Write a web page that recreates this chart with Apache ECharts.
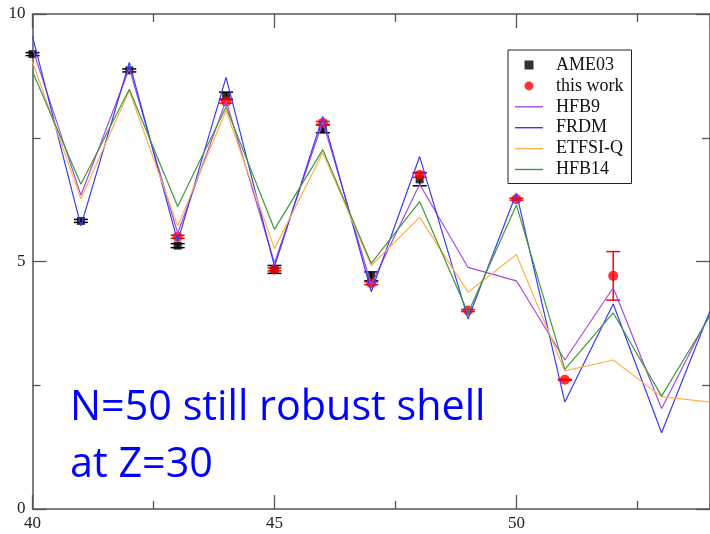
<!DOCTYPE html>
<html>
<head>
<meta charset="utf-8">
<script src="https://cdn.jsdelivr.net/npm/echarts@6/dist/echarts.min.js"></script>
<style>
html,body{margin:0;padding:0;background:#fff;}
#c{width:710px;height:534px;}
</style>
</head>
<body>
<div id="c"></div>
<script>
// ---- data ----
var N = [40, 41, 42, 43, 44, 45, 46, 47, 48, 49, 50, 51, 52, 53, 54];

var ameN   = [40, 41, 42, 43, 44, 45, 46, 47, 48];
var ameVal = [9.19, 5.82, 8.86, 5.32, 8.35, 4.84, 7.68, 4.70, 6.66];
var ameErr = [0.03, 0.03, 0.03, 0.04, 0.07, 0.08, 0.08, 0.09, 0.13];

var workN   = [43, 44, 45, 46, 47, 48, 49, 50, 51, 52];
var workVal = [5.50, 8.23, 4.84, 7.80, 4.56, 6.75, 4.01, 6.26, 2.61, 4.71];
var workErr = [0.03, 0.03, 0.03, 0.03, 0.03, 0.05, 0.02, 0.02, 0.01, 0.49];

var hfb9   = [9.30, 6.34, 8.90, 5.57, 8.25, 4.97, 7.82, 4.53, 6.56, 4.88, 4.61, 3.01, 4.47, 2.03, 3.95];
var frdm   = [9.55, 5.72, 9.02, 5.40, 8.72, 4.90, 7.93, 4.39, 7.12, 3.84, 6.38, 2.16, 4.14, 1.54, 4.00];
var etfsiq = [9.03, 6.27, 8.45, 5.72, 8.05, 5.26, 7.20, 4.92, 5.89, 4.38, 5.14, 2.79, 3.01, 2.27, 2.16];
var hfb14  = [8.84, 6.56, 8.48, 6.11, 8.12, 5.65, 7.26, 4.96, 6.21, 3.96, 6.14, 2.82, 3.96, 2.28, 3.90];

var xTicks = [40, 45, 50];
var yTicks = [0, 5, 10];
var annotation = ['N=50 still robust shell', 'at Z=30'];

// ---- helpers ----
function zip(xs, ys) { return xs.map(function (x, i) { return [x, ys[i]]; }); }
function errData(xs, ys, es) { return xs.map(function (x, i) { return [x, ys[i] - es[i], ys[i] + es[i]]; }); }
function errRender(color) {
  return function (params, api) {
    var x = api.value(0);
    var lo = api.coord([x, api.value(1)]);
    var hi = api.coord([x, api.value(2)]);
    var w = 7;
    var st = { stroke: color, lineWidth: 1.5 };
    return {
      type: 'group',
      children: [
        { type: 'line', shape: { x1: lo[0], y1: lo[1], x2: hi[0], y2: hi[1] }, style: st },
        { type: 'line', shape: { x1: lo[0] - w, y1: lo[1], x2: lo[0] + w, y2: lo[1] }, style: st },
        { type: 'line', shape: { x1: hi[0] - w, y1: hi[1], x2: hi[0] + w, y2: hi[1] }, style: st }
      ]
    };
  };
}

var serif = 'Liberation Serif';
var axisCol = '#555';
var labelStyle = { fontFamily: serif, fontSize: 17, color: '#222' };

function xAx(pos, showLabel) {
  return {
    type: 'value', position: pos, min: 40, max: 54, interval: 5,
    axisLine: { show: true, onZero: false, lineStyle: { color: axisCol, width: 1.5 } },
    axisTick: { show: true, inside: true, length: 14, lineStyle: { color: axisCol, width: 1.3 } },
    minorTick: { show: true, splitNumber: 2, length: 8, lineStyle: { color: axisCol, width: 1.3 } },
    splitLine: { show: false }, minorSplitLine: { show: false },
    axisLabel: Object.assign({ show: showLabel, margin: 6, showMaxLabel: false,
      formatter: function (v) { return xTicks.indexOf(v) >= 0 ? String(v) : ''; } }, labelStyle)
  };
}
function yAx(pos, showLabel) {
  return {
    type: 'value', position: pos, min: 0, max: 10, interval: 5,
    axisLine: { show: true, onZero: false, lineStyle: { color: axisCol, width: 1.5 } },
    axisTick: { show: true, inside: true, length: 14, lineStyle: { color: axisCol, width: 1.3 } },
    minorTick: { show: true, splitNumber: 2, length: 8, lineStyle: { color: axisCol, width: 1.3 } },
    splitLine: { show: false }, minorSplitLine: { show: false },
    axisLabel: Object.assign({ show: showLabel, margin: 7,
      formatter: function (v) { return yTicks.indexOf(v) >= 0 ? String(v) : ''; } }, labelStyle)
  };
}

function lineSeries(name, data, color) {
  return {
    name: name, type: 'line', data: zip(N, data), symbol: 'none', z: 5,
    lineStyle: { color: color, width: 1.2 }, itemStyle: { color: color }
  };
}

var lineIcon = 'path://M0,0h40v2h-40z';
var squareIcon = 'path://M0,0h10v10h-10z';

var chart = echarts.init(document.getElementById('c'), null, { renderer: 'canvas' });
chart.setOption({
  animation: false,
  backgroundColor: '#fff',
  grid: { left: 32.5, top: 14, width: 680.4, height: 495, containLabel: false },
  xAxis: [xAx('bottom', true), xAx('top', false)],
  yAxis: [yAx('left', true), yAx('right', false)],
  legend: {
    orient: 'vertical', left: 508, top: 50,
    padding: [6, 8, 5, 7],
    itemWidth: 28, itemHeight: 9, itemGap: 2.9,
    symbolKeepAspect: true,
    borderColor: '#222', borderWidth: 1, borderRadius: 0,
    backgroundColor: '#fff',
    textStyle: { fontFamily: serif, fontSize: 18, color: '#111', lineHeight: 18, padding: [0, 0, 0, 8] },
    data: [
      { name: 'AME03', icon: squareIcon },
      { name: 'this work', icon: 'circle' },
      { name: 'HFB9', icon: lineIcon },
      { name: 'FRDM', icon: lineIcon },
      { name: 'ETFSI-Q', icon: lineIcon },
      { name: 'HFB14', icon: lineIcon }
    ]
  },
  series: [
    { name: 'AME03 err', type: 'custom', data: errData(ameN, ameVal, ameErr),
      renderItem: errRender('#000'), encode: { x: 0, y: [1, 2] }, z: 2 },
    { name: 'AME03', type: 'scatter', data: zip(ameN, ameVal), symbol: 'rect', symbolSize: 8,
      itemStyle: { color: '#000' }, z: 3 },
    { name: 'this work err', type: 'custom', data: errData(workN, workVal, workErr),
      renderItem: errRender('#ff0000'), encode: { x: 0, y: [1, 2] }, z: 3 },
    { name: 'this work', type: 'scatter', data: zip(workN, workVal), symbol: 'circle', symbolSize: 10,
      itemStyle: { color: '#ff0000' }, z: 4 },
    lineSeries('HFB9', hfb9, '#a24de0'),
    lineSeries('FRDM', frdm, '#3a3aff'),
    lineSeries('ETFSI-Q', etfsiq, '#ffb050'),
    lineSeries('HFB14', hfb14, '#3f9a3f')
  ],
  graphic: [
    { type: 'text', left: 70, top: 388, z: 100,
      style: { text: annotation[0], fill: '#0000ff', font: '41.3px "Open Sans"' } },
    { type: 'text', left: 70, top: 445, z: 100,
      style: { text: annotation[1], fill: '#0000ff', font: '41.3px "Open Sans"' } }
  ]
});
</script>
</body>
</html>
